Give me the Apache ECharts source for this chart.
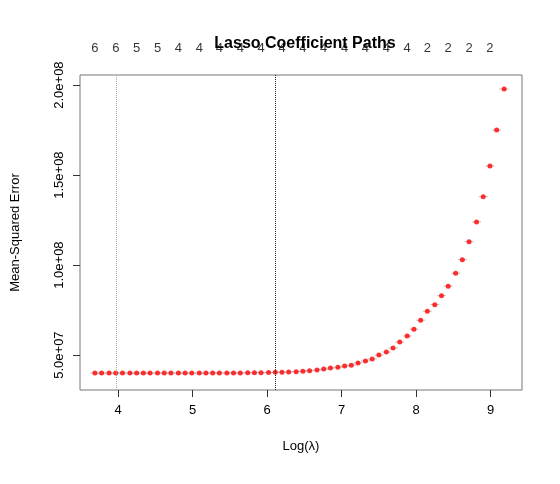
<!DOCTYPE html>
<html>
<head>
<meta charset="utf-8">
<script src="https://cdn.jsdelivr.net/npm/echarts@6/dist/echarts.min.js"></script>
<style>html,body{margin:0;padding:0;background:#fff}#chart{width:560px;height:484px}</style>
</head>
<body>
<div id="chart"></div>
<script>
// log(lambda) of each fit
var logLambda = [3.69,3.78,3.88,3.97,4.06,4.16,4.25,4.34,4.43,4.53,4.62,4.71,4.81,4.90,4.99,5.09,5.18,5.27,5.36,5.46,
	5.55,5.64,5.74,5.83,5.92,6.02,6.11,6.20,6.29,6.39,6.48,6.57,6.67,6.76,6.85,6.95,7.04,7.13,7.22,7.32,
	7.41,7.50,7.60,7.69,7.78,7.88,7.97,8.06,8.15,8.25,8.34,8.43,8.53,8.62,8.71,8.81,8.90,8.99,9.08,9.18];
// cv mean-squared error, in millions
var mse = [40.0,40.0,40.0,40.0,40.0,40.0,40.0,40.0,40.0,40.0,40.0,40.0,40.0,40.0,40.0,40.0,40.0,40.0,40.1,40.1,
	40.1,40.1,40.2,40.2,40.2,40.3,40.4,40.5,40.6,40.8,41.0,41.3,41.7,42.2,42.8,43.3,43.9,44.4,45.6,46.7,
	47.8,50.0,51.7,53.9,57.2,60.6,64.4,69.4,74.4,78.0,83.0,88.3,95.5,103,113,124,138,155,175,197.8];
// number of nonzero coefficients shown on top (every 3rd fit)
var nonZero = [6,6,5,5,4,4,4,4,4,4,4,4,4,4,4,4,2,2,2,2];
var lambdaMin = 3.97, lambda1se = 6.11;
var yTicks = [5e7, 1e8, 1.5e8, 2e8];
var xTicks = [4, 5, 6, 7, 8, 9];

var font = 'Liberation Sans, Arial, sans-serif';
var yMax = 2.056e8;
var pts = logLambda.map(function (x, i) { return [x, mse[i] * 1e6]; });
var topPts = nonZero.map(function (n, i) { return {value: [logLambda[i * 3], yMax], n: n}; });

var myChart = echarts.init(document.getElementById('chart'));
myChart.setOption({
	animation: false,
	title: {
		text: 'Lasso Coefficient Paths', left: 300, top: 31, textAlign: 'center',
		textStyle: {fontFamily: font, fontSize: 16, fontWeight: 'bold', color: '#000'}
	},
	grid: {left: 80, right: 38, top: 75, bottom: 94, show: true, borderColor: '#777', borderWidth: 1},
	xAxis: {
		type: 'value', min: 3.49, max: 9.42,
		name: 'Log(\u03bb)', nameLocation: 'middle', nameGap: 50,
		nameTextStyle: {fontFamily: font, fontSize: 13, color: '#000'},
		splitLine: {show: false}, axisLine: {show: false},
		axisTick: {show: true, length: 7, customValues: xTicks, lineStyle: {color: '#333'}},
		axisLabel: {customValues: xTicks, margin: 14, fontFamily: font, fontSize: 13, color: '#000'}
	},
	yAxis: {
		type: 'value', min: 3.06e7, max: yMax,
		name: 'Mean-Squared Error', nameLocation: 'middle', nameGap: 58,
		nameTextStyle: {fontFamily: font, fontSize: 13, color: '#000'},
		splitLine: {show: false}, axisLine: {show: false},
		axisTick: {show: true, length: 7, customValues: yTicks, lineStyle: {color: '#333'}},
		axisLabel: {
			customValues: yTicks, rotate: 90, margin: 14, fontFamily: font, fontSize: 13, color: '#000',
			formatter: function (v) {
				var e = Math.floor(Math.log10(v));
				return (v / Math.pow(10, e)).toFixed(1) + 'e+0' + e;
			}
		}
	},
	series: [{
		type: 'scatter', data: pts, symbol: 'rect', symbolSize: [9, 1],
		itemStyle: {color: '#aaa'}, silent: true
	}, {
		type: 'scatter', data: pts, symbol: 'circle', symbolSize: 5,
		itemStyle: {color: '#ff0000'},
		markLine: {
			silent: true, symbol: 'none', label: {show: false},
			data: [
				{xAxis: lambdaMin, lineStyle: {color: '#aaa', type: 'dotted', width: 1}},
				{xAxis: lambda1se, lineStyle: {color: '#222', type: 'dotted', width: 1}}
			]
		}
	}, {
		type: 'scatter', data: topPts, symbolSize: 0, clip: false, silent: true, z: 10,
		label: {
			show: true, position: 'top', distance: 20, fontFamily: font, fontSize: 13, color: '#000',
			formatter: function (p) { return p.data.n; }
		}
	}]
});
</script>
</body>
</html>
